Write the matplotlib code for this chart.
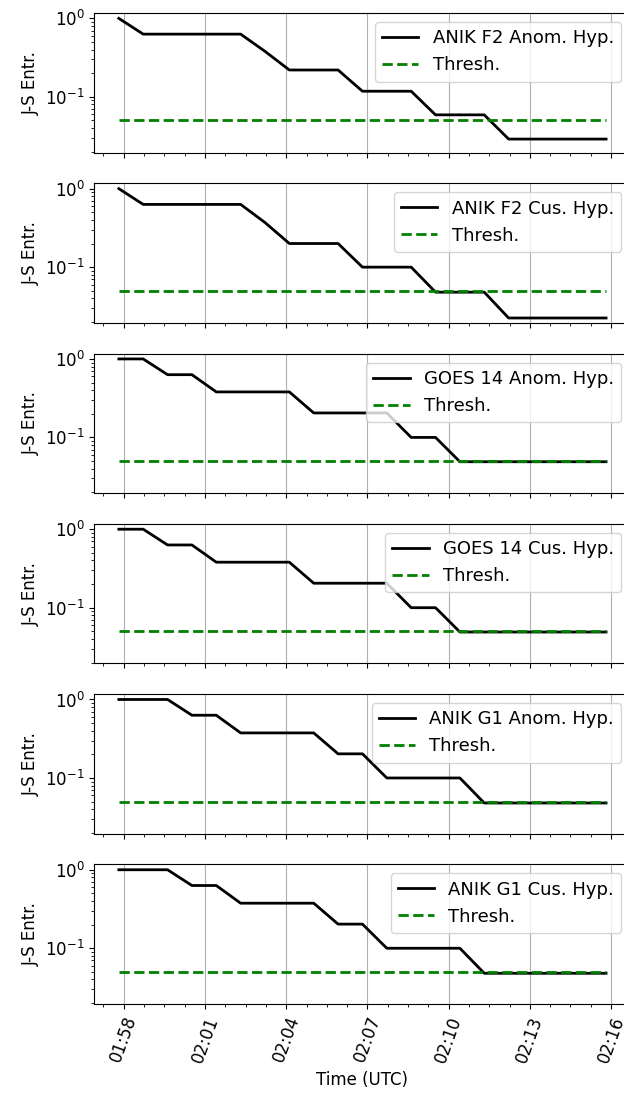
import pandas as pd
import matplotlib
matplotlib.use("Agg")
import matplotlib.pyplot as plt
import matplotlib.dates as mdates
from matplotlib.ticker import AutoMinorLocator

# Tidspunkter (ett punkt ca. hvert 54. sekund)
tider = pd.date_range("2019-01-01 01:57:49", periods=21, freq="54s")

terskel = 0.05

# J-S entropi for hver hypotese
anik_f2_anom = [1.0, 0.63, 0.63, 0.63, 0.63, 0.63, 0.38, 0.22, 0.22, 0.22, 0.118,
                0.118, 0.118, 0.059, 0.059, 0.059, 0.029, 0.029, 0.029, 0.029, 0.029]
anik_f2_cus = [1.0, 0.63, 0.63, 0.63, 0.63, 0.63, 0.37, 0.20, 0.20, 0.20, 0.10,
               0.10, 0.10, 0.048, 0.048, 0.048, 0.0225, 0.0225, 0.0225, 0.0225, 0.0225]
goes14_anom = [1.0, 1.0, 0.63, 0.63, 0.38, 0.38, 0.38, 0.38, 0.205, 0.205, 0.205,
               0.205, 0.10, 0.10, 0.049, 0.049, 0.049, 0.049, 0.049, 0.049, 0.049]
goes14_cus = [1.0, 1.0, 0.63, 0.63, 0.38, 0.38, 0.38, 0.38, 0.205, 0.205, 0.205,
              0.205, 0.10, 0.10, 0.049, 0.049, 0.049, 0.049, 0.049, 0.049, 0.049]
anik_g1_anom = [1.0, 1.0, 1.0, 0.63, 0.63, 0.375, 0.375, 0.375, 0.375, 0.203, 0.203,
                0.10, 0.10, 0.10, 0.10, 0.048, 0.048, 0.048, 0.048, 0.048, 0.048]
anik_g1_cus = [1.0, 1.0, 1.0, 0.63, 0.63, 0.375, 0.375, 0.375, 0.375, 0.203, 0.203,
               0.10, 0.10, 0.10, 0.10, 0.048, 0.048, 0.048, 0.048, 0.048, 0.048]

navn = ["ANIK F2 Anom. Hyp.", "ANIK F2 Cus. Hyp.", "GOES 14 Anom. Hyp.",
        "GOES 14 Cus. Hyp.", "ANIK G1 Anom. Hyp.", "ANIK G1 Cus. Hyp."]
serier = [anik_f2_anom, anik_f2_cus, goes14_anom, goes14_cus, anik_g1_anom, anik_g1_cus]

fig, axes = plt.subplots(6, 1, sharex=True, figsize=(6.24, 11.04), dpi=100)
fig.subplots_adjust(left=0.1514, right=1.0103, top=0.9882, bottom=0.0906, hspace=0.22)

for ax, verdier, tekst in zip(axes, serier, navn):
    ax.semilogy(tider, verdier, color="k", lw=2, label=tekst)
    ax.plot(tider, [terskel] * len(tider), "g--", lw=2, label="Thresh.")
    ax.set_ylim(0.0195, 1.17)
    ax.set_ylabel("J-S Entr.", fontsize=12)
    ax.tick_params(labelsize=12)
    ax.grid(axis="x")
    ax.legend(loc="upper right", fontsize=13)

# Tidsakse: hvert 3. minutt fra 01:58
axes[-1].xaxis.set_major_locator(mdates.MinuteLocator(byminute=[58, 1, 4, 7, 10, 13, 16]))
axes[-1].xaxis.set_major_formatter(mdates.DateFormatter("%H:%M"))
axes[-1].xaxis.set_minor_locator(AutoMinorLocator(4))
plt.setp(axes[-1].get_xticklabels(), rotation=70)
axes[-1].set_xlabel("Time (UTC)", fontsize=12)

plt.savefig("out.png")
